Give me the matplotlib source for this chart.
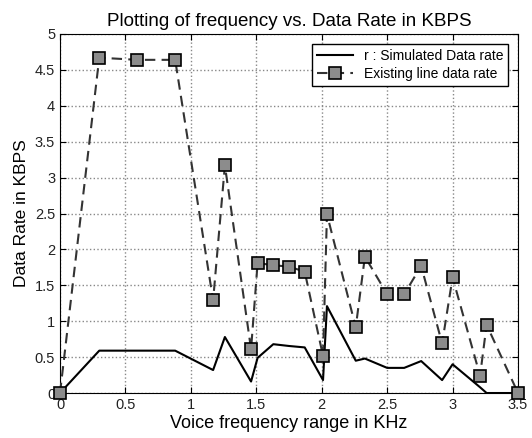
import matplotlib
matplotlib.use('Agg')
import matplotlib.pyplot as plt

# voice frequency (KHz)
freq = [0, 0.30, 0.59, 0.88, 1.17, 1.26, 1.46, 1.51, 1.63, 1.75, 1.87, 2.01,
        2.04, 2.26, 2.33, 2.50, 2.63, 2.76, 2.92, 3.00, 3.21, 3.26, 3.50]
# simulated data rate (KBPS)
simulated = [0, 0.59, 0.59, 0.59, 0.32, 0.78, 0.16, 0.49, 0.68, 0.655, 0.635, 0.18,
             1.21, 0.45, 0.48, 0.35, 0.35, 0.445, 0.18, 0.40, 0.08, 0, 0]
# existing line data rate (KBPS)
existing = [0, 4.67, 4.64, 4.64, 1.29, 3.17, 0.61, 1.81, 1.78, 1.76, 1.69, 0.515,
            2.49, 0.915, 1.90, 1.375, 1.375, 1.77, 0.69, 1.61, 0.24, 0.95, 0]

xticks = [0, 0.5, 1, 1.5, 2, 2.5, 3, 3.5]
yticks = [0, 0.5, 1, 1.5, 2, 2.5, 3, 3.5, 4, 4.5, 5]

plt.rcParams['font.family'] = ['Liberation Sans', 'DejaVu Sans']

fig = plt.figure(figsize=(5.32, 4.38), dpi=100)
ax = fig.add_axes([0.1128, 0.1027, 0.8609, 0.8197])

ax.plot(freq, simulated, color='black', lw=1.5, label='r : Simulated Data rate')
ax.plot(freq, existing, color='#333333', lw=1.5, ls=(0, (5, 3)),
        marker='s', ms=8, mfc='#8c8c8c', mec='black', mew=1.2,
        label='Existing line data rate', clip_on=False, zorder=3)

ax.set_xlim(0, 3.5)
ax.set_ylim(0, 5)
ax.set_xticks(xticks)
ax.set_xticklabels(['0', '0.5', '1', '1.5', '2', '2.5', '3', '3.5'])
ax.set_yticks(yticks)
ax.set_yticklabels(['0', '0.5', '1', '1.5', '2', '2.5', '3', '3.5', '4', '4.5', '5'])
ax.tick_params(direction='in', top=True, right=True, labelsize=10.5, length=4,
               labelcolor='#222222')
ax.grid(True, ls=':', color='#888888', lw=1)

ax.set_title('Plotting of frequency vs. Data Rate in KBPS', fontsize=13.5, pad=6)
ax.set_xlabel('Voice frequency range in KHz', fontsize=13, labelpad=2)
ax.set_ylabel('Data Rate in KBPS', fontsize=12.5, labelpad=4)

leg = ax.legend(loc='upper right', fontsize=10, fancybox=False, framealpha=1,
                edgecolor='black', borderaxespad=0.7, handlelength=2.6,
                borderpad=0.35, labelspacing=0.3)
leg.get_frame().set_linewidth(1)

fig.savefig('out.png', dpi=100)
